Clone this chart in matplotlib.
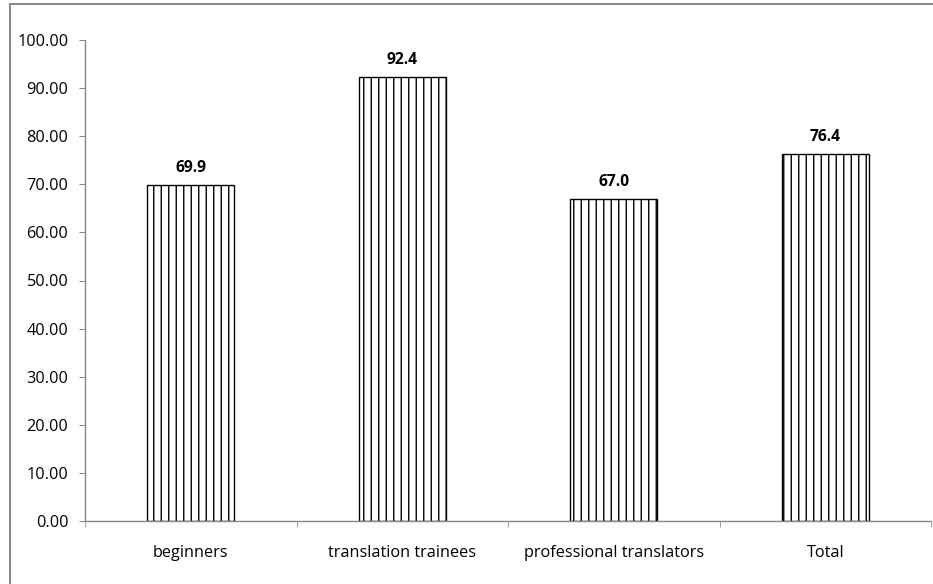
import matplotlib.pyplot as plt
from matplotlib.patches import Rectangle
from matplotlib.ticker import FormatStrFormatter

categories = ['beginners', 'translation trainees', 'professional translators', 'Total']
values = [69.9, 92.4, 67.0, 76.4]
labels = ['69.9', '92.4', '67.0', '76.4']

plt.rcParams['font.family'] = ['Open Sans', 'DejaVu Sans']
plt.rcParams['hatch.linewidth'] = 1.1

DPI = 90
fig = plt.figure(figsize=(933/DPI, 584/DPI), dpi=DPI)
ax = fig.add_axes([85/933, 1 - 521/584, 846/933, 481/584])

x = list(range(len(categories)))
bars = ax.bar(x, values, width=0.41, color='white', edgecolor='black',
              linewidth=1.1, hatch='||')
for b, t in zip(bars, labels):
    ax.annotate(t, (b.get_x() + b.get_width()/2, b.get_height()),
                xytext=(0, 7), textcoords='offset points',
                ha='center', va='bottom', fontsize=12.5, fontweight='bold')

ax.set_xlim(-0.5, len(categories) - 0.5)
ax.set_ylim(0, 100)
ax.set_yticks(range(0, 101, 10))
ax.yaxis.set_major_formatter(FormatStrFormatter('%.2f'))
ax.set_xticks(x)
ax.set_xticklabels(categories)
ax.set_xticks([i - 0.5 for i in range(len(categories) + 1)], minor=True)

for s in ['top', 'right']:
    ax.spines[s].set_visible(False)
for s in ['left', 'bottom']:
    ax.spines[s].set_color('#868686')
    ax.spines[s].set_linewidth(1.1)

ax.tick_params(axis='y', length=4.4, color='#868686', pad=9, labelsize=13)
ax.tick_params(axis='x', which='major', length=0, pad=19, labelsize=13)
ax.tick_params(axis='x', which='minor', length=4.4, color='#868686')

# outer chart border (cut off at the right and bottom)
fig.patches.append(Rectangle((10/933, -0.1), 1.2, 1 - 4/584 + 0.1,
                             transform=fig.transFigure, fill=False,
                             edgecolor='#8c8c8c', linewidth=1.6))

plt.savefig('out.png', dpi=DPI)
